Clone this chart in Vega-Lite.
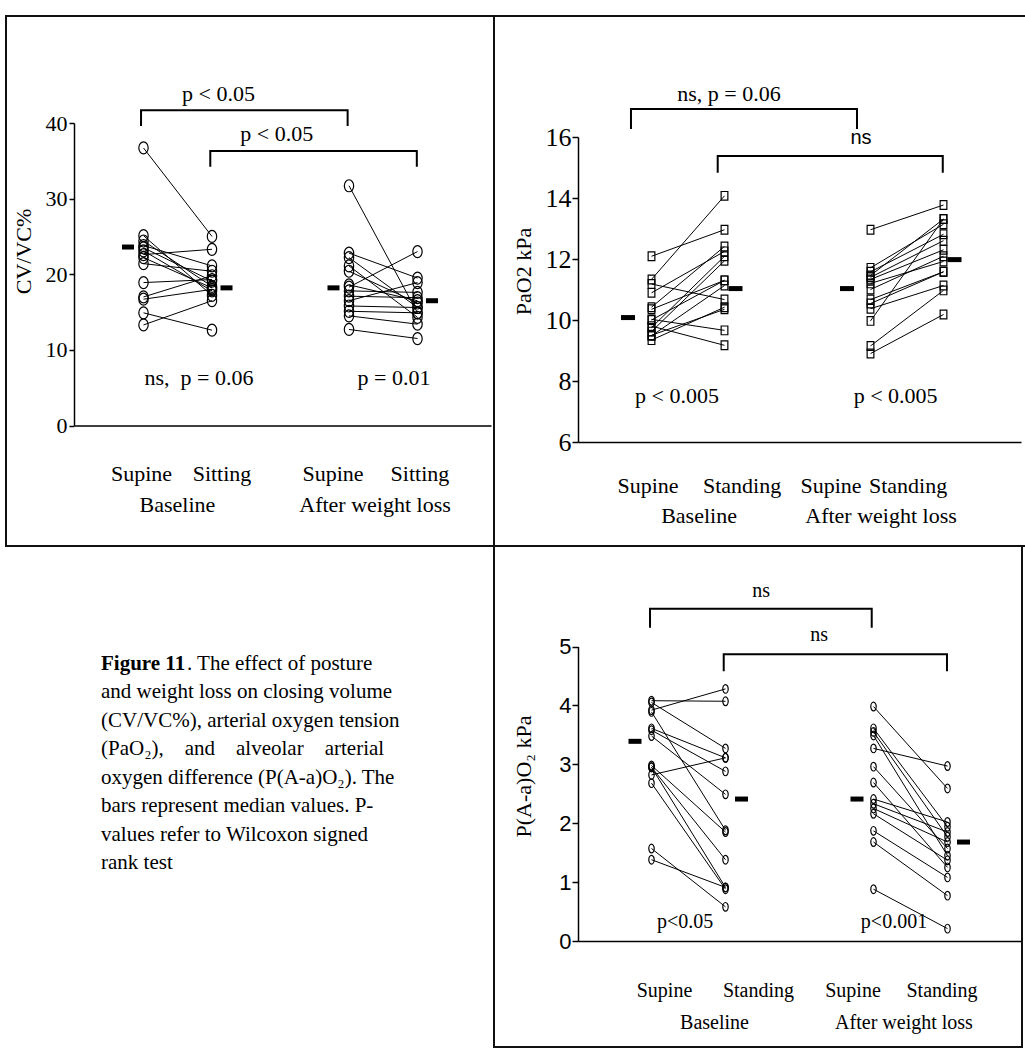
{
"$schema": "https://vega.github.io/schema/vega-lite/v6.json",
"padding": {"left": 5, "top": 15, "right": 0, "bottom": 0},
"spacing": 0,
"bounds": "flush",
"columns": 2,
"config": {
  "view": {"stroke": "#111", "strokeWidth": 2},
  "axis": {"grid": false, "domainColor": "black", "tickColor": "black", "labelColor": "black", "titleColor": "black", "domainWidth": 1.5, "tickWidth": 1.5}
},
"datasets": {
  "p1pts": [
    {"id":"B1","x":1,"y":36.7},{"id":"B1","x":2,"y":25.0},
    {"id":"B2","x":1,"y":25.1},{"id":"B2","x":2,"y":17.2},
    {"id":"B3","x":1,"y":24.4},{"id":"B3","x":2,"y":18.4},
    {"id":"B4","x":1,"y":23.5},{"id":"B4","x":2,"y":19.1},
    {"id":"B5","x":1,"y":23.1},{"id":"B5","x":2,"y":17.8},
    {"id":"B6","x":1,"y":22.6},{"id":"B6","x":2,"y":23.3},
    {"id":"B7","x":1,"y":22.2},{"id":"B7","x":2,"y":18.2},
    {"id":"B8","x":1,"y":21.4},{"id":"B8","x":2,"y":20.4},
    {"id":"B9","x":1,"y":18.9},{"id":"B9","x":2,"y":19.3},
    {"id":"B10","x":1,"y":17.0},{"id":"B10","x":2,"y":19.8},
    {"id":"B11","x":1,"y":16.7},{"id":"B11","x":2,"y":18.0},
    {"id":"B12","x":1,"y":14.9},{"id":"B12","x":2,"y":12.6},
    {"id":"B13","x":1,"y":13.3},{"id":"B13","x":2,"y":16.5},
    {"id":"B14","x":1,"y":23.8},{"id":"B14","x":2,"y":21.1},
    {"id":"A1","x":4,"y":31.7},{"id":"A1","x":5,"y":14.9},
    {"id":"A2","x":4,"y":22.8},{"id":"A2","x":5,"y":19.5},
    {"id":"A3","x":4,"y":22.2},{"id":"A3","x":5,"y":15.6},
    {"id":"A4","x":4,"y":21.1},{"id":"A4","x":5,"y":14.3},
    {"id":"A5","x":4,"y":20.4},{"id":"A5","x":5,"y":16.2},
    {"id":"A6","x":4,"y":18.3},{"id":"A6","x":5,"y":23.0},
    {"id":"A7","x":4,"y":17.8},{"id":"A7","x":5,"y":17.6},
    {"id":"A8","x":4,"y":17.1},{"id":"A8","x":5,"y":16.9},
    {"id":"A9","x":4,"y":16.5},{"id":"A9","x":5,"y":18.9},
    {"id":"A10","x":4,"y":15.8},{"id":"A10","x":5,"y":15.6},
    {"id":"A11","x":4,"y":15.1},{"id":"A11","x":5,"y":14.9},
    {"id":"A12","x":4,"y":14.5},{"id":"A12","x":5,"y":13.4},
    {"id":"A13","x":4,"y":12.7},{"id":"A13","x":5,"y":11.5},
    {"id":"A14","x":4,"y":18.6},{"id":"A14","x":5,"y":16.5}
  ],
  "p1med": [{"x":1,"y":23.6},{"x":2,"y":18.2},{"x":4,"y":18.2},{"x":5,"y":16.5}],
  "p1br": [
    {"b":1,"o":1,"x":0.964,"y":39.6},{"b":1,"o":2,"x":0.964,"y":41.7},{"b":1,"o":3,"x":3.98,"y":41.7},{"b":1,"o":4,"x":3.98,"y":39.6},
    {"b":2,"o":1,"x":1.975,"y":34.2},{"b":2,"o":2,"x":1.975,"y":36.3},{"b":2,"o":3,"x":4.99,"y":36.3},{"b":2,"o":4,"x":4.99,"y":34.2}
  ],
  "p1txt": [
    {"t":"p < 0.05","x":2.095,"y":43.8},
    {"t":"p < 0.05","x":2.946,"y":38.5},
    {"t":"ns,\u00a0\u00a0p = 0.06","x":1.81,"y":6.3},
    {"t":"p = 0.01","x":4.657,"y":6.3},
    {"t":"Supine","x":0.971,"y":-6.4},
    {"t":"Sitting","x":2.146,"y":-6.4},
    {"t":"Baseline","x":1.496,"y":-10.5},
    {"t":"Supine","x":3.766,"y":-6.4},
    {"t":"Sitting","x":5.036,"y":-6.4},
    {"t":"After weight loss","x":4.38,"y":-10.5}
  ],
  "p2pts": [
    {"id":"B1","x":1,"y":12.09},{"id":"B1","x":2,"y":12.96},
    {"id":"B2","x":1,"y":11.33},{"id":"B2","x":2,"y":14.07},
    {"id":"B3","x":1,"y":11.18},{"id":"B3","x":2,"y":10.67},
    {"id":"B4","x":1,"y":10.89},{"id":"B4","x":2,"y":12.25},
    {"id":"B5","x":1,"y":10.42},{"id":"B5","x":2,"y":12.41},
    {"id":"B6","x":1,"y":10.35},{"id":"B6","x":2,"y":11.30},
    {"id":"B7","x":1,"y":10.02},{"id":"B7","x":2,"y":9.66},
    {"id":"B8","x":1,"y":9.75},{"id":"B8","x":2,"y":12.09},
    {"id":"B9","x":1,"y":9.62},{"id":"B9","x":2,"y":11.94},
    {"id":"B10","x":1,"y":9.48},{"id":"B10","x":2,"y":11.13},
    {"id":"B11","x":1,"y":9.34},{"id":"B11","x":2,"y":10.42},
    {"id":"B12","x":1,"y":9.50},{"id":"B12","x":2,"y":10.35},
    {"id":"B13","x":1,"y":9.80},{"id":"B13","x":2,"y":9.17},
    {"id":"B14","x":1,"y":10.00},{"id":"B14","x":2,"y":11.30},
    {"id":"A1","x":4,"y":12.96},{"id":"A1","x":5,"y":13.77},
    {"id":"A2","x":4,"y":11.71},{"id":"A2","x":5,"y":13.14},
    {"id":"A3","x":4,"y":11.58},{"id":"A3","x":5,"y":12.81},
    {"id":"A4","x":4,"y":11.46},{"id":"A4","x":5,"y":13.31},
    {"id":"A5","x":4,"y":11.33},{"id":"A5","x":5,"y":12.30},
    {"id":"A6","x":4,"y":11.00},{"id":"A6","x":5,"y":12.09},
    {"id":"A7","x":4,"y":10.67},{"id":"A7","x":5,"y":11.58},
    {"id":"A8","x":4,"y":10.54},{"id":"A8","x":5,"y":11.58},
    {"id":"A9","x":4,"y":10.37},{"id":"A9","x":5,"y":11.13},
    {"id":"A10","x":4,"y":9.97},{"id":"A10","x":5,"y":13.31},
    {"id":"A11","x":4,"y":9.15},{"id":"A11","x":5,"y":10.97},
    {"id":"A12","x":4,"y":8.90},{"id":"A12","x":5,"y":10.18},
    {"id":"A13","x":4,"y":11.40},{"id":"A13","x":5,"y":12.60},
    {"id":"A14","x":4,"y":11.20},{"id":"A14","x":5,"y":11.92}
  ],
  "p2med": [{"x":1,"y":10.08},{"x":2,"y":11.03},{"x":4,"y":11.03},{"x":5,"y":11.98}],
  "p2br": [
    {"b":1,"o":1,"x":0.719,"y":16.26},{"b":1,"o":2,"x":0.719,"y":16.92},{"b":1,"o":3,"x":3.815,"y":16.92},{"b":1,"o":4,"x":3.815,"y":16.26},
    {"b":2,"o":1,"x":1.907,"y":14.83},{"b":2,"o":2,"x":1.907,"y":15.38},{"b":2,"o":3,"x":4.99,"y":15.38},{"b":2,"o":4,"x":4.99,"y":14.83}
  ],
  "p2txt": [
    {"t":"ns, p = 0.06","x":2.062,"y":17.41},
    {"t":"p < 0.005","x":1.349,"y":7.51},
    {"t":"p < 0.005","x":4.344,"y":7.51},
    {"t":"Supine","x":0.952,"y":4.557},
    {"t":"Standing","x":2.24,"y":4.557},
    {"t":"Supine","x":3.459,"y":4.557},
    {"t":"Standing","x":4.514,"y":4.557},
    {"t":"Baseline","x":1.651,"y":3.574},
    {"t":"After weight loss","x":4.144,"y":3.574}
  ],
  "p2sans": [{"t":"ns","x":3.87,"y":15.97}],
  "p3pts": [
    {"id":"B1","x":1,"y":4.08},{"id":"B1","x":2,"y":4.07},
    {"id":"B2","x":1,"y":3.92},{"id":"B2","x":2,"y":4.28},
    {"id":"B3","x":1,"y":4.05},{"id":"B3","x":2,"y":3.27},
    {"id":"B4","x":1,"y":3.89},{"id":"B4","x":2,"y":1.88},
    {"id":"B5","x":1,"y":3.61},{"id":"B5","x":2,"y":3.11},
    {"id":"B6","x":1,"y":3.58},{"id":"B6","x":2,"y":2.88},
    {"id":"B7","x":1,"y":3.48},{"id":"B7","x":2,"y":2.49},
    {"id":"B8","x":1,"y":2.98},{"id":"B8","x":2,"y":1.85},
    {"id":"B9","x":1,"y":2.95},{"id":"B9","x":2,"y":1.38},
    {"id":"B10","x":1,"y":2.82},{"id":"B10","x":2,"y":3.11},
    {"id":"B11","x":1,"y":2.68},{"id":"B11","x":2,"y":0.88},
    {"id":"B12","x":1,"y":1.57},{"id":"B12","x":2,"y":0.58},
    {"id":"B13","x":1,"y":1.38},{"id":"B13","x":2,"y":0.91},
    {"id":"B14","x":1,"y":2.95},{"id":"B14","x":2,"y":0.91},
    {"id":"A1","x":4,"y":3.98},{"id":"A1","x":5,"y":2.59},
    {"id":"A2","x":4,"y":3.61},{"id":"A2","x":5,"y":1.94},
    {"id":"A3","x":4,"y":3.55},{"id":"A3","x":5,"y":1.77},
    {"id":"A4","x":4,"y":3.49},{"id":"A4","x":5,"y":1.45},
    {"id":"A5","x":4,"y":3.27},{"id":"A5","x":5,"y":2.97},
    {"id":"A6","x":4,"y":2.96},{"id":"A6","x":5,"y":1.57},
    {"id":"A7","x":4,"y":2.69},{"id":"A7","x":5,"y":1.25},
    {"id":"A8","x":4,"y":2.41},{"id":"A8","x":5,"y":2.02},
    {"id":"A9","x":4,"y":2.33},{"id":"A9","x":5,"y":1.85},
    {"id":"A10","x":4,"y":2.25},{"id":"A10","x":5,"y":1.68},
    {"id":"A11","x":4,"y":2.16},{"id":"A11","x":5,"y":1.37},
    {"id":"A12","x":4,"y":1.87},{"id":"A12","x":5,"y":1.08},
    {"id":"A13","x":4,"y":1.68},{"id":"A13","x":5,"y":0.77},
    {"id":"A14","x":4,"y":0.88},{"id":"A14","x":5,"y":0.21}
  ],
  "p3med": [{"x":1,"y":3.39},{"x":2,"y":2.41},{"x":4,"y":2.41},{"x":5,"y":1.68}],
  "p3br": [
    {"b":1,"o":1,"x":0.98,"y":5.32},{"b":1,"o":2,"x":0.98,"y":5.64},{"b":1,"o":3,"x":3.976,"y":5.64},{"b":1,"o":4,"x":3.976,"y":5.32},
    {"b":2,"o":1,"x":1.976,"y":4.58},{"b":2,"o":2,"x":1.976,"y":4.87},{"b":2,"o":3,"x":4.993,"y":4.87},{"b":2,"o":4,"x":4.993,"y":4.58}
  ],
  "p3txt": [
    {"t":"ns","x":2.48,"y":5.94},
    {"t":"ns","x":3.264,"y":5.195},
    {"t":"p<0.05","x":1.453,"y":0.328},
    {"t":"p<0.001","x":4.277,"y":0.328},
    {"t":"Supine","x":1.176,"y":-0.849},
    {"t":"Standing","x":2.446,"y":-0.849},
    {"t":"Supine","x":3.723,"y":-0.849},
    {"t":"Standing","x":4.926,"y":-0.849},
    {"t":"Baseline","x":1.851,"y":-1.387},
    {"t":"After weight loss","x":4.412,"y":-1.387}
  ],
  "cap": [
    {"line":1,"part":"head","t":"Figure 11"},
    {"line":1,"part":"rest","t":". The effect of posture"},
    {"line":2,"part":"body","t":"and weight loss on closing volume"},
    {"line":3,"part":"body","t":"(CV/VC%), arterial oxygen tension"},
    {"line":4,"part":"body","t":"(PaO₂),\u00a0\u00a0\u00a0\u00a0and\u00a0\u00a0\u00a0\u00a0alveolar\u00a0\u00a0\u00a0\u00a0arterial"},
    {"line":5,"part":"body","t":"oxygen difference (P(A-a)O₂). The"},
    {"line":6,"part":"body","t":"bars represent median values. P-"},
    {"line":7,"part":"body","t":"values refer to Wilcoxon signed"},
    {"line":8,"part":"body","t":"rank test"}
  ]
},
"concat": [
  {
    "width": 488, "height": 530,
    "encoding": {
      "x": {"field": "x", "type": "quantitative", "scale": {"domain": [-0.0146, 6.073], "range": [68, 485], "nice": false, "zero": false},
            "axis": {"orient": "bottom", "offset": -120.5, "labels": false, "ticks": false, "title": null}},
      "y": {"field": "y", "type": "quantitative", "scale": {"domain": [0, 40], "range": [409.5, 107], "nice": false, "zero": false},
            "axis": {"orient": "left", "offset": -68, "values": [0, 10, 20, 30, 40], "tickSize": 5, "labelFont": "Liberation Serif", "labelFontSize": 22, "labelPadding": 2,
                     "title": "CV/VC%", "titleFont": "Liberation Serif", "titleFontSize": 22, "titleFontWeight": "normal", "titleX": -51, "titleY": 235, "titleBaseline": "middle", "titleAngle": -90}}
    },
    "layer": [
      {"data": {"name": "p1pts"}, "mark": {"type": "line", "color": "black", "strokeWidth": 1}, "encoding": {"detail": {"field": "id"}}},
      {"data": {"name": "p1pts"}, "mark": {"type": "point", "shape": "M0,-1A0.78,1 0 1,1 0,1A0.78,1 0 1,1 0,-1Z", "size": 144, "filled": false, "color": "black", "strokeWidth": 1.2, "opacity": 1}},
      {"data": {"name": "p1med"}, "transform": [{"filter": "datum.x == 1 || datum.x == 4"}], "mark": {"type": "tick", "orient": "horizontal", "size": 12, "thickness": 5, "color": "black", "opacity": 1, "xOffset": -15.5}},
      {"data": {"name": "p1med"}, "transform": [{"filter": "datum.x == 2 || datum.x == 5"}], "mark": {"type": "tick", "orient": "horizontal", "size": 12, "thickness": 5, "color": "black", "opacity": 1, "xOffset": 14.5}},
      {"data": {"name": "p1br"}, "mark": {"type": "line", "color": "black", "strokeWidth": 2}, "encoding": {"detail": {"field": "b"}, "order": {"field": "o"}}},
      {"data": {"name": "p1txt"}, "mark": {"type": "text", "font": "Liberation Serif", "fontSize": 22, "baseline": "middle", "align": "center", "color": "black"}, "encoding": {"text": {"field": "t"}}}
    ]
  },
  {
    "width": 532, "height": 530,
    "encoding": {
      "x": {"field": "x", "type": "quantitative", "scale": {"domain": [-0.0068, 6.0616], "range": [84, 527], "nice": false, "zero": false},
            "axis": {"orient": "bottom", "offset": -104, "labels": false, "ticks": false, "title": null}},
      "y": {"field": "y", "type": "quantitative", "scale": {"domain": [6, 16], "range": [426, 121], "nice": false, "zero": false},
            "axis": {"orient": "left", "offset": -84, "values": [6, 8, 10, 12, 14, 16], "tickSize": 6, "labelFont": "Liberation Serif", "labelFontSize": 26, "labelPadding": 1,
                     "title": "PaO2 kPa", "titleFont": "Liberation Serif", "titleFontSize": 22, "titleFontWeight": "normal", "titleX": -55, "titleY": 255, "titleBaseline": "middle", "titleAngle": -90}}
    },
    "layer": [
      {"data": {"name": "p2pts"}, "mark": {"type": "line", "color": "black", "strokeWidth": 1}, "encoding": {"detail": {"field": "id"}}},
      {"data": {"name": "p2pts"}, "mark": {"type": "point", "shape": "M-0.77,-1H0.77V1H-0.77Z", "size": 76, "filled": false, "color": "black", "strokeWidth": 1.2, "opacity": 1}},
      {"data": {"name": "p2med"}, "transform": [{"filter": "datum.x == 1 || datum.x == 4"}], "mark": {"type": "tick", "orient": "horizontal", "size": 14, "thickness": 5, "color": "black", "opacity": 1, "xOffset": -23.5}},
      {"data": {"name": "p2med"}, "transform": [{"filter": "datum.x == 2 || datum.x == 5"}], "mark": {"type": "tick", "orient": "horizontal", "size": 14, "thickness": 5, "color": "black", "opacity": 1, "xOffset": 11}},
      {"data": {"name": "p2br"}, "mark": {"type": "line", "color": "black", "strokeWidth": 2}, "encoding": {"detail": {"field": "b"}, "order": {"field": "o"}}},
      {"data": {"name": "p2txt"}, "mark": {"type": "text", "font": "Liberation Serif", "fontSize": 22, "baseline": "middle", "align": "center", "color": "black"}, "encoding": {"text": {"field": "t"}}},
      {"data": {"name": "p2sans"}, "mark": {"type": "text", "font": "Liberation Sans", "fontSize": 20, "baseline": "middle", "align": "center", "color": "black"}, "encoding": {"text": {"field": "t"}}}
    ]
  },
  {
    "width": 488, "height": 501,
    "view": {"stroke": null},
    "data": {"name": "cap"},
    "encoding": {
      "y": {"field": "line", "type": "quantitative", "scale": {"domain": [1, 8], "range": [118, 317], "nice": false, "zero": false}, "axis": null},
      "x": {"datum": 0, "type": "quantitative", "scale": {"domain": [0, 1], "range": [95, 488], "nice": false, "zero": false}, "axis": null},
      "text": {"field": "t"}
    },
    "layer": [
      {"transform": [{"filter": "datum.part == 'head'"}], "mark": {"type": "text", "align": "left", "baseline": "middle", "font": "Liberation Serif", "fontSize": 21, "fontWeight": "bold", "color": "black"}},
      {"transform": [{"filter": "datum.part == 'rest'"}], "mark": {"type": "text", "align": "left", "baseline": "middle", "font": "Liberation Serif", "fontSize": 21, "color": "black", "dx": 86}},
      {"transform": [{"filter": "datum.part == 'body'"}], "mark": {"type": "text", "align": "left", "baseline": "middle", "font": "Liberation Serif", "fontSize": 21, "color": "black"}}
    ]
  },
  {
    "width": 528, "height": 501,
    "encoding": {
      "x": {"field": "x", "type": "quantitative", "scale": {"domain": [0.0068, 5.9932], "range": [84, 527], "nice": false, "zero": false},
            "axis": {"orient": "bottom", "offset": -106, "labels": false, "ticks": false, "title": null}},
      "y": {"field": "y", "type": "quantitative", "scale": {"domain": [0, 5], "range": [395, 100.5], "nice": false, "zero": false},
            "axis": {"orient": "left", "offset": -84, "values": [0, 1, 2, 3, 4, 5], "tickSize": 6, "labelFont": "Liberation Sans", "labelFontSize": 22, "labelPadding": 1,
                     "title": "P(A-a)O₂ kPa", "titleFont": "Liberation Serif", "titleFontSize": 22, "titleFontWeight": "normal", "titleX": -55, "titleY": 230, "titleBaseline": "middle", "titleAngle": -90}}
    },
    "layer": [
      {"data": {"name": "p3pts"}, "mark": {"type": "line", "color": "black", "strokeWidth": 1}, "encoding": {"detail": {"field": "id"}}},
      {"data": {"name": "p3pts"}, "mark": {"type": "point", "shape": "M0,-1A0.62,1 0 1,1 0,1A0.62,1 0 1,1 0,-1Z", "size": 76, "filled": false, "color": "black", "strokeWidth": 1.2, "opacity": 1}},
      {"data": {"name": "p3med"}, "transform": [{"filter": "datum.x == 1 || datum.x == 4"}], "mark": {"type": "tick", "orient": "horizontal", "size": 13, "thickness": 5, "color": "black", "opacity": 1, "xOffset": -16.5}},
      {"data": {"name": "p3med"}, "transform": [{"filter": "datum.x == 2 || datum.x == 5"}], "mark": {"type": "tick", "orient": "horizontal", "size": 13, "thickness": 5, "color": "black", "opacity": 1, "xOffset": 16}},
      {"data": {"name": "p3br"}, "mark": {"type": "line", "color": "black", "strokeWidth": 2}, "encoding": {"detail": {"field": "b"}, "order": {"field": "o"}}},
      {"data": {"name": "p3txt"}, "mark": {"type": "text", "font": "Liberation Serif", "fontSize": 20, "baseline": "middle", "align": "center", "color": "black"}, "encoding": {"text": {"field": "t"}}}
    ]
  }
]
}
